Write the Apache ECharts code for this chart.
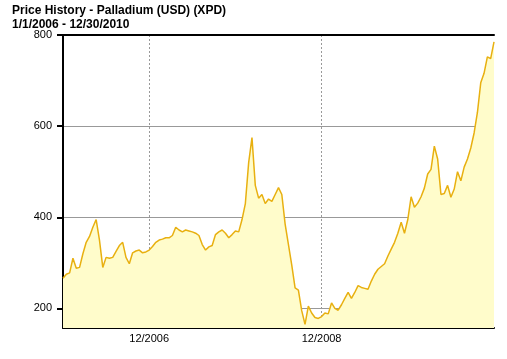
<!DOCTYPE html>
<html><head><meta charset="utf-8">
<script src="https://cdn.jsdelivr.net/npm/echarts@6/dist/echarts.min.js"></script>
<style>html,body{margin:0;padding:0;background:#fff}#c{width:507px;height:359px}</style>
</head><body><div id="c"></div>
<script>
const titleLines = ['Price History - Palladium (USD) (XPD)', '1/1/2006 - 12/30/2010'];
const startDate = '2006-01-02';
const stepDays = 14;
const prices = [
  266,275,278,310,288,290,320,345,358,378,
  395,350,290,312,310,312,325,338,345,312,
  298,322,326,328,322,324,328,336,345,350,
  352,355,355,360,378,372,368,372,370,368,
  365,360,340,328,335,338,362,368,372,365,
  355,362,370,368,395,430,520,575,470,442,
  450,430,440,435,450,465,450,385,340,295,
  245,240,195,165,205,190,180,178,182,190,
  188,212,200,196,208,222,235,222,235,250,
  246,244,242,260,275,286,292,298,315,330,
  345,365,389,365,395,445,422,431,445,464,
  495,505,556,528,450,452,470,444,462,500,
  480,510,528,552,585,630,695,716,752,748,785
];
const xTickDates = ['2007-01-01', '2008-12-29'];
const xTickLabels = ['12/2006', '12/2008'];
const yTicks = [200, 400, 600, 800];
const yMin = 157, yMax = 800;

const categories = [];
{
  const d0 = new Date(startDate + 'T00:00:00Z');
  for (let i = 0; i < prices.length; i++) {
    const d = new Date(d0.getTime() + i * stepDays * 86400000);
    categories.push(d.toISOString().slice(0, 10));
  }
}
const isTick = (idx) => xTickDates.indexOf(categories[idx]) >= 0;
const FONT = '"Liberation Sans", Arial, sans-serif';

const chart = echarts.init(document.getElementById('c'), null, {renderer: 'canvas'});
chart.setOption({
  animation: false,
  backgroundColor: '#fff',
  title: {
    text: titleLines.join('\n'),
    left: 12, top: 4, padding: 0,
    textStyle: {fontFamily: FONT, fontSize: 12, fontWeight: 'bold', color: '#000', lineHeight: 14}
  },
  grid: {left: 63, right: 13, top: 35, bottom: 31, containLabel: false},
  xAxis: [{
    type: 'category', data: categories, boundaryGap: false,
    axisLine: {lineStyle: {color: '#000', width: 2}},
    axisTick: {show: false},
    axisLabel: {
      interval: (i) => isTick(i), margin: 5,
      fontFamily: FONT, fontSize: 11, color: '#000',
      formatter: (v) => xTickLabels[xTickDates.indexOf(v)]
    },
    splitLine: {show: true, interval: (i) => isTick(i), lineStyle: {color: '#999', type: [2, 2], width: 1}}
  }, {
    type: 'category', data: categories, boundaryGap: false, position: 'top',
    axisLine: {lineStyle: {color: '#000', width: 2}},
    axisTick: {show: false}, axisLabel: {show: false}, splitLine: {show: false}
  }],
  yAxis: {
    type: 'value', min: yMin, max: yMax,
    axisLine: {show: true, lineStyle: {color: '#000', width: 2}},
    axisTick: {show: true, length: 6, customValues: yTicks, lineStyle: {color: '#000', width: 2}},
    axisLabel: {customValues: yTicks, margin: 11, fontFamily: FONT, fontSize: 11, color: '#000'},
    splitLine: {show: true, lineStyle: {color: '#999', width: 1}}
  },
  series: [{
    type: 'line', data: prices, showSymbol: false, symbol: 'none',
    lineStyle: {color: '#E8B010', width: 1.5},
    areaStyle: {color: '#FFFCCB', opacity: 1, origin: 'start'}
  }]
});
</script></body></html>
